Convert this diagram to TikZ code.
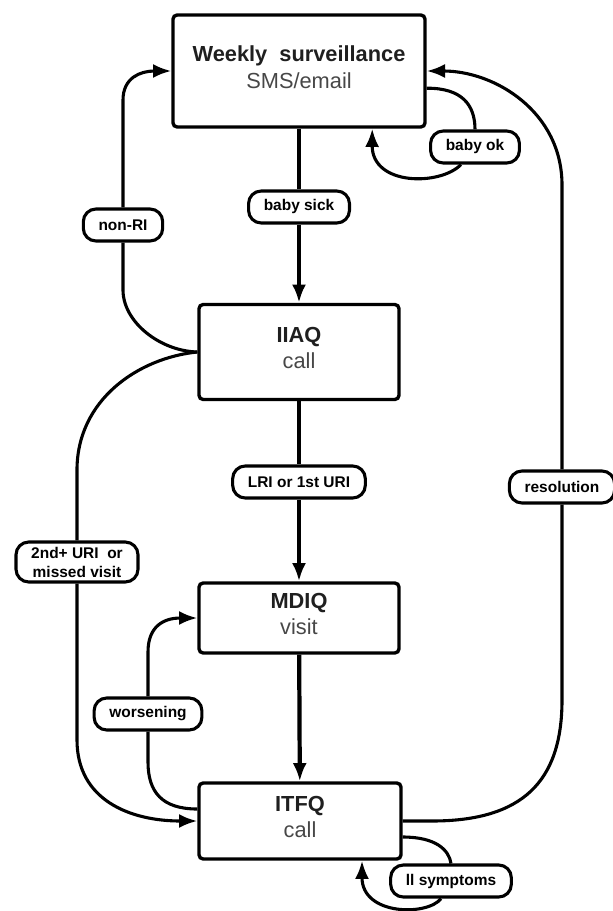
\documentclass[tikz,border=0pt]{standalone}
\usepackage{fontspec}
\setmainfont{Liberation Sans}
\usetikzlibrary{arrows.meta}
\newcommand{\lowpad}{\rule[-0.2cm]{0pt}{0pt}}
\begin{document}
\begin{tikzpicture}[x=0.025cm,y=-0.025cm,
  stage/.style={draw,line width=2.4pt,rounded corners=3pt,align=center,inner sep=0pt,
    font=\fontsize{15.5}{19}\selectfont,text=black!88},
  cond/.style={draw,fill=white,line width=2.2pt,rounded corners=9pt,align=center,
    inner xsep=0.38cm,inner ysep=0.12cm,minimum height=0.8cm,
    font=\fontsize{11}{13.5}\selectfont\bfseries},
  trunk/.style={line width=3pt},
  flow/.style={trunk,-{Latex[length=13pt,width=10pt]}},
  branch/.style={line width=2.2pt},
  back/.style={branch,-{Latex[length=13pt,width=10pt]}}]
\useasboundingbox (0,0) rectangle (612,911);

% questionnaires
\node[stage,minimum width=6.3cm,minimum height=2.8cm] (weekly) at (299,71)
  {\textbf{Weekly\ \ surveillance}\\{\color{black!72}SMS/email}\lowpad};
\node[stage,minimum width=5cm,minimum height=2.375cm] (iiaq) at (299,352)
  {\textbf{IIAQ}\\{\color{black!72}call}\lowpad};
\node[stage,minimum width=5cm,minimum height=1.75cm] (mdiq) at (299,618)
  {\textbf{MDIQ}\\{\color{black!72}visit}\lowpad};
\node[stage,minimum width=5.05cm,minimum height=1.9cm] (itfq) at (300,821)
  {\textbf{ITFQ}\\{\color{black!72}call}\lowpad};

% conditions
\node[cond] (sick) at (299,207) {baby sick};
\node[cond] (lri) at (299,482) {LRI or 1st URI};
\node[cond] (nonri) at (123,225) {non-RI};
\node[cond] (second) at (77,562) {2nd+ URI\ \ or\\missed visit};
\node[cond] (worse) at (148,714) {worsening};
\node[cond] (resol) at (562,487) {resolution};
\node[cond] (ok) at (475,147) {baby ok};
\node[cond] (ill) at (451,881) {ll symptoms};

% main line
\draw[trunk] (weekly) -- (sick);
\draw[flow] (sick) -- (iiaq);
\draw[trunk] (iiaq) -- (lri);
\draw[flow] (lri) -- (mdiq);
\draw[flow] (mdiq) -- (itfq);

% back to surveillance
\draw[branch] (iiaq.west) .. controls (160,351) and (123,322) .. (123,290) -- (nonri.south);
\draw[back] (nonri.north) -- (123,100) .. controls (123,78) and (140,71) .. (weekly.west);
\draw[branch] ([yshift=-0.43cm]weekly.east) .. controls (462,88) and (475,105) .. (ok.north);
\draw[back] ([xshift=-0.35cm]ok.south) .. controls (440,186) and (372,186) .. ([xshift=1.83cm]weekly.south);
\draw[branch] (itfq.east) -- (432,821) .. controls (522,821) and (562,782) .. (562,700) -- (resol.south);
\draw[back] (resol.north) -- (562,185) .. controls (562,112) and (495,71) .. (weekly.east);

% skips and returns
\draw[branch] (iiaq.west) .. controls (138,358) and (77,400) .. (77,470) -- (second.north);
\draw[back] (second.south) -- (77,740) .. controls (77,800) and (130,821) .. (itfq.west);
\draw[branch] ([yshift=0.3cm]itfq.west) .. controls (162,809) and (148,792) .. (148,762) -- (worse.south);
\draw[back] (worse.north) -- (148,652) .. controls (148,626) and (164,618) .. (mdiq.west);
\draw[branch] ([yshift=-0.4cm]itfq.east) .. controls (436,837) and (449,850) .. (ill.north);
\draw[back] ([xshift=-0.25cm]ill.south) .. controls (428,916) and (362,916) .. ([xshift=1.55cm]itfq.south);
\end{tikzpicture}
\end{document}
